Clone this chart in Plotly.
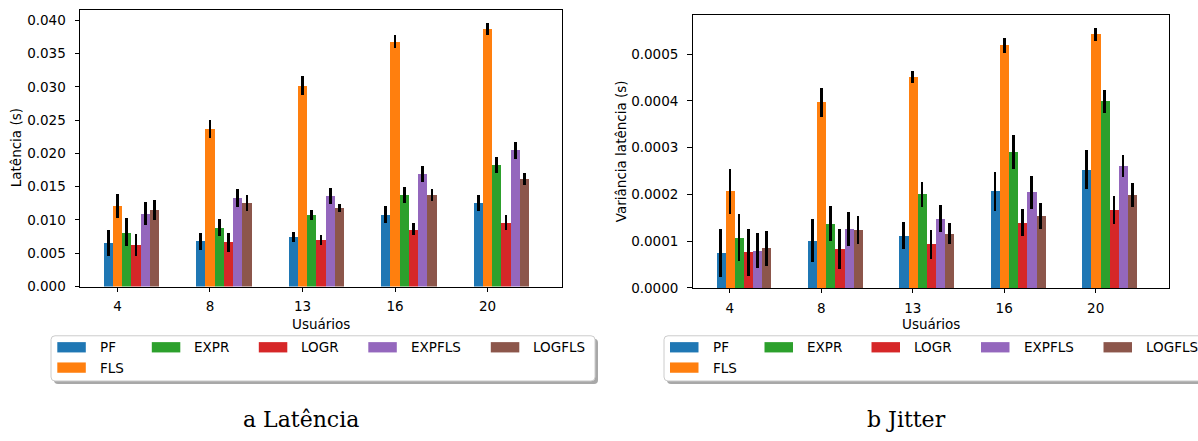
import plotly.graph_objects as go

# ---------------- data ----------------
users = ["4", "8", "13", "16", "20"]
series = ["PF", "FLS", "EXPR", "LOGR", "EXPFLS", "LOGFLS"]

lat_PF = [0.00652, 0.00681, 0.00740, 0.01078, 0.01255]
lat_FLS = [0.01211, 0.02373, 0.03020, 0.03680, 0.03873]
lat_EXPR = [0.00814, 0.00887, 0.01078, 0.01373, 0.01828]
lat_LOGR = [0.00623, 0.00667, 0.00696, 0.00858, 0.00961]
lat_EXPFLS = [0.01093, 0.01328, 0.01358, 0.01696, 0.02049]
lat_LOGFLS = [0.01152, 0.01255, 0.01181, 0.01373, 0.01613]

lat_err_PF = [0.00196, 0.00130, 0.00074, 0.00130, 0.00115]
lat_err_FLS = [0.00179, 0.00135, 0.00142, 0.00100, 0.00088]
lat_err_EXPR = [0.00210, 0.00132, 0.00074, 0.00125, 0.00115]
lat_err_LOGR = [0.00160, 0.00142, 0.00076, 0.00091, 0.00110]
lat_err_EXPFLS = [0.00174, 0.00137, 0.00125, 0.00123, 0.00130]
lat_err_LOGFLS = [0.00152, 0.00115, 0.00064, 0.00091, 0.00086]

jit_PF = [7.41e-5, 1.014e-4, 1.119e-4, 2.063e-4, 2.524e-4]
jit_FLS = [2.063e-4, 3.972e-4, 4.517e-4, 5.189e-4, 5.420e-4]
jit_EXPR = [1.077e-4, 1.371e-4, 2.000e-4, 2.902e-4, 3.986e-4]
jit_LOGR = [7.62e-5, 8.25e-5, 9.30e-5, 1.392e-4, 1.664e-4]
jit_EXPFLS = [7.97e-5, 1.266e-4, 1.476e-4, 2.042e-4, 2.608e-4]
jit_LOGFLS = [8.46e-5, 1.245e-4, 1.161e-4, 1.538e-4, 1.979e-4]

jit_err_PF = [5.14e-5, 4.51e-5, 2.87e-5, 4.09e-5, 4.16e-5]
jit_err_FLS = [4.90e-5, 3.08e-5, 1.29e-5, 1.61e-5, 1.43e-5]
jit_err_EXPR = [4.97e-5, 3.74e-5, 2.69e-5, 3.64e-5, 2.55e-5]
jit_err_LOGR = [5.07e-5, 4.27e-5, 3.08e-5, 2.87e-5, 3.01e-5]
jit_err_EXPFLS = [3.74e-5, 3.67e-5, 2.90e-5, 3.60e-5, 2.34e-5]
jit_err_LOGFLS = [3.67e-5, 2.97e-5, 2.24e-5, 2.69e-5, 2.59e-5]

lat_values = [lat_PF, lat_FLS, lat_EXPR, lat_LOGR, lat_EXPFLS, lat_LOGFLS]
lat_errors = [lat_err_PF, lat_err_FLS, lat_err_EXPR, lat_err_LOGR, lat_err_EXPFLS, lat_err_LOGFLS]
jit_values = [jit_PF, jit_FLS, jit_EXPR, jit_LOGR, jit_EXPFLS, jit_LOGFLS]
jit_errors = [jit_err_PF, jit_err_FLS, jit_err_EXPR, jit_err_LOGR, jit_err_EXPFLS, jit_err_LOGFLS]

lat_ticks = [0.0, 0.005, 0.010, 0.015, 0.020, 0.025, 0.030, 0.035, 0.040]
jit_ticks = [0.0, 0.0001, 0.0002, 0.0003, 0.0004, 0.0005]

# ---------------- style ----------------
W, H = 1198, 441
colors = ["#1f77b4", "#ff7f0e", "#2ca02c", "#d62728", "#9467bd", "#8c564b"]
BAR_W = 0.1
FONT = "DejaVu Sans"
FS = 13.5


def px(x):
    return x / W


def py(y):
    return 1 - y / H


fig = go.Figure()

pos = list(range(len(users)))
for j, name in enumerate(series):
    off = (j - 1) * BAR_W
    xs = [p + off for p in pos]
    fig.add_trace(go.Bar(
        x=xs, y=lat_values[j], width=BAR_W, name=name,
        marker=dict(color=colors[j], line=dict(width=0)),
        error_y=dict(type="data", array=lat_errors[j], color="black", thickness=2.7, width=0),
        xaxis="x", yaxis="y", showlegend=False,
    ))
    fig.add_trace(go.Bar(
        x=xs, y=jit_values[j], width=BAR_W, name=name,
        marker=dict(color=colors[j], line=dict(width=0)),
        error_y=dict(type="data", array=jit_errors[j], color="black", thickness=2.7, width=0),
        xaxis="x2", yaxis="y2", showlegend=False,
    ))

axis_common = dict(
    showline=True, linecolor="black", linewidth=1, mirror=True,
    ticks="outside", ticklen=4.5, tickwidth=1, tickcolor="black",
    showgrid=False, zeroline=False,
    tickfont=dict(family=FONT, size=FS, color="black"),
)

fig.update_layout(
    width=W, height=H,
    margin=dict(l=0, r=0, t=0, b=0),
    paper_bgcolor="white", plot_bgcolor="white",
    barmode="overlay", bargap=0,
    showlegend=False,
    xaxis=dict(domain=[px(80), px(562)], range=[-0.405, 4.805], anchor="y",
               tickvals=pos, ticktext=users, ticklabelstandoff=3, **axis_common),
    yaxis=dict(domain=[py(291.8), py(10)], range=[0, 0.0416], anchor="x",
               tickvals=lat_ticks, tickformat=".3f", ticklabelstandoff=6, **axis_common),
    xaxis2=dict(domain=[px(692.6), px(1168.8)], range=[-0.408, 4.80], anchor="y2",
                tickvals=pos, ticktext=users, ticklabelstandoff=3, **axis_common),
    yaxis2=dict(domain=[py(293.3), py(15.3)], range=[0, 0.0005833], anchor="x2",
                tickvals=jit_ticks, tickformat=".4f", ticklabelstandoff=6, **axis_common),
)

annotations = []
shapes = []

# axis titles
for (xc, yc, text, ang) in [
    ((80 + 562) / 2, 329.5, "Usuários", 0),
    ((692.6 + 1168.8) / 2, 329.5, "Usuários", 0),
    (16, 151, "Latência (s)", -90),
    (621, 154, "Variância latência (s)", -90),
]:
    annotations.append(dict(
        x=px(xc), y=py(yc), xref="paper", yref="paper", text=text, showarrow=False,
        textangle=ang, xanchor="center", yanchor="middle", borderpad=0,
        font=dict(family=FONT, size=FS, color="black"),
    ))

# captions
for (xc, text) in [(301, "a Latência"), (906.5, "b Jitter")]:
    annotations.append(dict(
        x=px(xc), y=py(427), xref="paper", yref="paper", text=text, showarrow=False,
        xanchor="center", yanchor="middle",
        font=dict(family="DejaVu Serif", size=22, color="black"),
    ))


def rounded_path(x0, y0, x1, y1, r):
    # pixel coords (y down) -> paper path
    rx, ry = r / W, r / H
    X0, X1 = px(x0), px(x1)
    Y0, Y1 = py(y0), py(y1)  # Y0 top (larger), Y1 bottom
    return (f"M {X0 + rx},{Y0} L {X1 - rx},{Y0} Q {X1},{Y0} {X1},{Y0 - ry} "
            f"L {X1},{Y1 + ry} Q {X1},{Y1} {X1 - rx},{Y1} L {X0 + rx},{Y1} "
            f"Q {X0},{Y1} {X0},{Y1 + ry} L {X0},{Y0 - ry} Q {X0},{Y0} {X0 + rx},{Y0} Z")


col_offsets = [0, 94.5, 201.5, 311, 433.5]
legend_cols = [[0, 1], [2], [3], [4], [5]]  # series indices per column
row_y = [353.7, 374.4]
HANDLE_W, HANDLE_H = 28.5, 10.5
TEXT_DX = 40.5

for (bx0, bx1, patch_x0) in [(51, 595, 57.3), (664, 1210, 670)]:
    by0, by1 = 342, 388
    shapes.append(dict(type="path", xref="paper", yref="paper",
                       path=rounded_path(bx0 + 3, by0 + 3, bx1 + 3, by1 + 3, 4),
                       fillcolor="#a8a8a8", line=dict(width=0), layer="above"))
    shapes.append(dict(type="path", xref="paper", yref="paper",
                       path=rounded_path(bx0, by0, bx1, by1, 4),
                       fillcolor="white", line=dict(color="#cccccc", width=1), layer="above"))
    for c, idxs in enumerate(legend_cols):
        for r, j in enumerate(idxs):
            xh = patch_x0 + col_offsets[c]
            yc = row_y[r]
            shapes.append(dict(type="rect", xref="paper", yref="paper",
                               x0=px(xh), x1=px(xh + HANDLE_W),
                               y0=py(yc + HANDLE_H / 2), y1=py(yc - HANDLE_H / 2),
                               fillcolor=colors[j], line=dict(width=0), layer="above"))
            annotations.append(dict(
                x=px(xh + TEXT_DX), y=py(yc), xref="paper", yref="paper",
                text=series[j], showarrow=False, xanchor="left", yanchor="middle",
                font=dict(family=FONT, size=FS, color="black"),
            ))

fig.update_layout(annotations=annotations, shapes=shapes)

fig.write_html("out.html")
